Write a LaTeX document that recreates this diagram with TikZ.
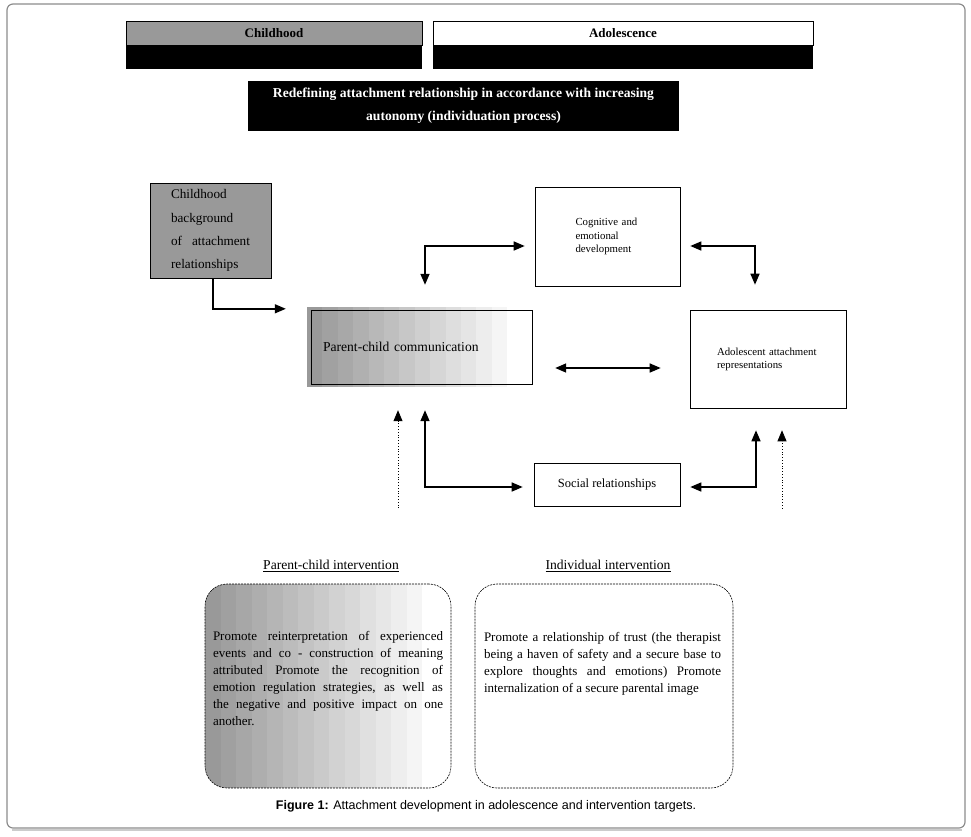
\documentclass[tikz,border=0pt]{standalone}
\usepackage{fontspec}
\setmainfont{Liberation Serif}
\newfontfamily\capfont{Liberation Sans}
\usetikzlibrary{arrows.meta}

\begin{document}
\begin{tikzpicture}[x=1pt, y=-1pt,
  box/.style={draw, line width=0.6pt, inner sep=0pt},
  band/.style={fill=black, minimum width=#1, minimum height=24pt, inner sep=0pt},
  arr/.style={line width=1.5pt, -{Triangle[length=11pt,width=9pt]}},
  twoway/.style={line width=1.5pt, {Triangle[length=11pt,width=9pt]}-{Triangle[length=11pt,width=9pt]}},
  hint/.style={dotted, line width=0.8pt, -{Triangle[length=11pt,width=9pt]}},
  steps/.style 2 args={path picture={
    \foreach \i [evaluate=\i as \shade using 40-36*\i/#1] in {0,...,#1}
      \fill[black!\shade, sharp corners] ([xshift=\i*#2]path picture bounding box.north west)
        rectangle ([xshift=(\i+1)*#2]path picture bounding box.south west);
  }},
  target/.style={draw, dash pattern=on 2pt off 1pt, line width=0.6pt,
    rounded corners=22pt, minimum width=#1, minimum height=204pt, inner sep=0pt},
  bodytext/.style={text width=#1, align=justify, inner sep=0pt,
    font=\fontsize{13}{17}\selectfont},
]
  \useasboundingbox (0,0) rectangle (971,836);

  % Frame
  \draw[black!20, line width=2pt] (12,829.5) -- (962,829.5);
  \draw[black!45, line width=1.2pt, rounded corners=6pt] (7,4) rectangle (965,828);

  % Stages
  \node[box, fill=black!40, minimum width=296pt, minimum height=24pt,
    font=\bfseries\fontsize{13}{15}\selectfont] (child) at (274,33) {Childhood};
  \node[band=296pt] (childbar) at (274,57) {};
  \node[box, minimum width=380pt, minimum height=24pt,
    font=\bfseries\fontsize{13}{15}\selectfont] (adol) at (623,33) {Adolescence};
  \node[band=380pt] (adolbar) at (623,57) {};

  \node[fill=black, text=white, minimum width=431pt, minimum height=50pt, align=center,
    font=\bfseries\fontsize{13.6}{23}\selectfont] (redef) at (463.5,106)
    {Redefining attachment relationship in accordance with increasing\\autonomy (individuation process)};

  % Nodes
  \node[box, fill=black!40, minimum width=121pt, minimum height=95pt, text width=79pt,
    align=left, font=\fontsize{13.2}{23.3}\selectfont] (bg) at (210.5,230.5)
    {Childhood\\background\\\mbox{}of\hfill attachment\\relationships};
  \node[steps={12}{15.4pt}, minimum width=225pt, minimum height=80pt, inner sep=0pt,
    text width=193pt, align=left, font=\fontsize{13.6}{16}\selectfont] (pcc) at (419.5,347)
    {Parent-child communication};
  \draw[line width=0.6pt] ([xshift=4pt,yshift=-3pt]pcc.north west) rectangle ([yshift=3pt]pcc.south east);
  \node[box, minimum width=145pt, minimum height=99pt, text width=64pt, align=left,
    font=\fontsize{10.8}{13.5}\selectfont] (cog) at (607.5,236.5)
    {Cognitive and\\emotional\\development};
  \node[box, minimum width=156pt, minimum height=98pt, text width=102pt, align=left,
    font=\fontsize{10.8}{13}\selectfont] (rep) at (768,359)
    {Adolescent attachment\\representations};
  \node[box, minimum width=146pt, minimum height=43pt,
    font=\fontsize{12.5}{14}\selectfont] (soc) at (607,484.5) {Social relationships};

  % Arrows between boxes
  \draw[arr] ([xshift=2.5pt]bg.south) |- ([xshift=-21pt,yshift=-2pt]pcc.north west);
  \draw[twoway] ([xshift=-10pt,yshift=-9.5pt]cog.west) -| ([xshift=5.5pt,yshift=22pt]pcc.north);
  \draw[twoway] ([xshift=10pt,yshift=-9.5pt]cog.east) -| ([xshift=-13pt,yshift=25pt]rep.north);
  \draw[twoway] ([xshift=23pt,yshift=-21pt]pcc.east) -- ([xshift=-29pt,yshift=-9pt]rep.west);
  \draw[twoway] ([xshift=5.5pt,yshift=-23pt]pcc.south) |- ([xshift=-11pt,yshift=-2.5pt]soc.west);
  \draw[twoway] ([xshift=10pt,yshift=-2.5pt]soc.east) -| ([xshift=-12pt,yshift=-22pt]rep.south);

  % Arrows from the interventions
  \draw[hint] ([xshift=-21.5pt,yshift=-121pt]pcc.south) -- ([xshift=-21.5pt,yshift=-23pt]pcc.south);
  \draw[hint] ([xshift=14pt,yshift=-100pt]rep.south) -- ([xshift=14pt,yshift=-22pt]rep.south);

  % Interventions
  \node[font=\fontsize{13.6}{15}\selectfont] (pchead) at (331,566) {\underline{Parent-child intervention}};
  \node[font=\fontsize{13.6}{15}\selectfont] (ihead) at (608,566) {\underline{Individual intervention}};

  \node[target=246pt, steps={13}{15.5pt}] (pcbox) at (328,686) {};
  \node[target=258pt] (ibox) at (604,686) {};

  \node[bodytext=230pt, anchor=north] (pctext) at ([yshift=-47pt]pcbox.north)
    {Promote reinterpretation of experienced\linebreak
     events and co - construction of meaning\linebreak
     attributed Promote the recognition of\linebreak
     emotion regulation strategies, as well as\linebreak
     the negative and positive impact on one\linebreak
     another.};
  \node[bodytext=237pt, anchor=north] (itext) at ([xshift=-1.5pt,yshift=-48pt]ibox.north)
    {Promote a relationship of trust (the therapist\linebreak
     being a haven of safety and a secure base to\linebreak
     explore thoughts and emotions) Promote\linebreak
     internalization of a secure parental image};

  % Caption
  \node[font=\capfont\fontsize{12.5}{14}\selectfont] (caption) at (486,806)
    {\textbf{Figure 1:} Attachment development in adolescence and intervention targets.};
\end{tikzpicture}
\end{document}
